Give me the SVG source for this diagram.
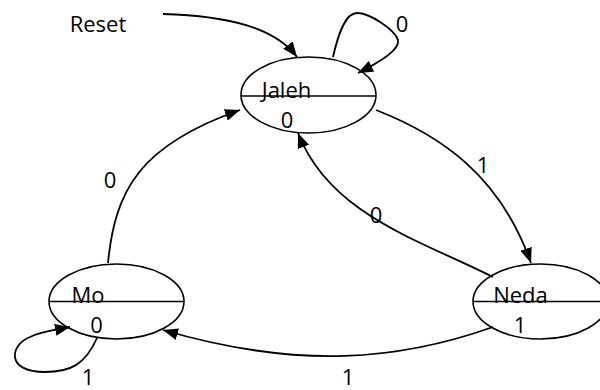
<svg xmlns="http://www.w3.org/2000/svg" width="600" height="390" viewBox="0 0 600 390">
<style>
.st{fill:none;stroke:#000;stroke-width:1.6}
.ln{fill:none;stroke:#000;stroke-width:1.8}
text{font-family:"Open Sans","Liberation Sans",Arial,sans-serif;font-size:22px;fill:#000;text-anchor:middle}
</style>
<defs>
<marker id="ah" markerUnits="userSpaceOnUse" markerWidth="16" markerHeight="12" refX="15" refY="6" orient="auto">
<path d="M0,0 L15,6 L0,12 z" fill="#000"/>
</marker>
</defs>
<rect width="600" height="390" fill="#fff"/>
<g id="connectors">
<path class="ln" d="M163,14 C230,16 275,28 297,57" marker-end="url(#ah)"/>
<path class="ln" d="M333,57 C338,35 345,13 357,13 C370,13 395,30 398,40 C400,50 380,62 358,73" marker-end="url(#ah)"/>
<path class="ln" d="M376,110 C440,135 500,175 531,263" marker-end="url(#ah)"/>
<path class="ln" d="M493,277 C420,240 330,215 298,133" marker-end="url(#ah)"/>
<path class="ln" d="M108,263 C115,190 140,145 240,110" marker-end="url(#ah)"/>
<path class="ln" d="M493,327 C400,360 300,370 163,330" marker-end="url(#ah)"/>
<path class="ln" d="M97,338 C85,365 70,372 45,372 C5,372 10,345 30,337 C40,332 55,330 70,327" marker-end="url(#ah)"/>
<text x="98" y="32">Reset</text>
<text x="402" y="32">0</text>
<text x="110" y="188">0</text>
<text x="483" y="173">1</text>
<text x="376" y="223">0</text>
<text x="348" y="385">1</text>
<text x="88" y="385">1</text>
</g>
<g id="jaleh">
<ellipse class="st" cx="308.5" cy="95" rx="67.5" ry="38" fill="#fff"/>
<line class="st" x1="241" y1="96" x2="376" y2="96"/>
<text x="286.5" y="98">Jaleh</text>
<text x="287" y="128">0</text>
</g>
<g id="mo">
<ellipse class="st" cx="116.5" cy="301.5" rx="67.5" ry="37.5" fill="#fff"/>
<line class="st" x1="49" y1="301.5" x2="184" y2="301.5"/>
<text x="88" y="303">Mo</text>
<text x="96.5" y="333">0</text>
</g>
<g id="neda">
<ellipse class="st" cx="540.5" cy="301.5" rx="67.5" ry="37.5" fill="#fff"/>
<line class="st" x1="473" y1="301.5" x2="600" y2="301.5"/>
<text x="520.5" y="303">Neda</text>
<text x="520" y="333">1</text>
</g>
</svg>
